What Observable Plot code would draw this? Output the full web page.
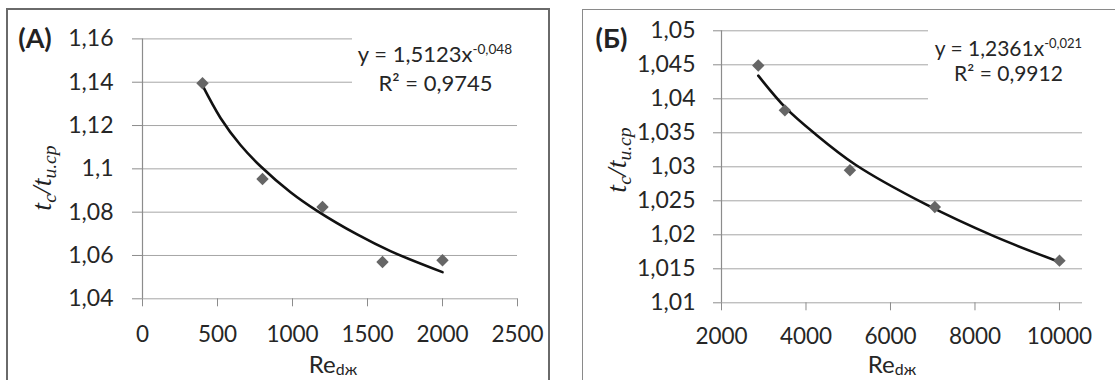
<!DOCTYPE html>
<html><head><meta charset="utf-8">
<script src="https://cdn.jsdelivr.net/npm/d3@7"></script>
<script src="https://cdn.jsdelivr.net/npm/@observablehq/plot@0.6"></script>
<style>
body{margin:0;background:#fff;}
#wrap{position:relative;width:1115px;height:380px;overflow:hidden;background:#fff;font-family:Lato,sans-serif;color:#2a2a2a;}
.abs{position:absolute;white-space:nowrap;}
.sub{font-size:0.7em;position:relative;top:0.28em;vertical-align:baseline;}
.xsub{font-size:0.66em;position:relative;top:0.12em;vertical-align:baseline;line-height:0.8;}
.sup{font-size:0.62em;position:relative;top:-0.62em;vertical-align:baseline;}
</style></head><body>
<div id="wrap"></div>
<script>
// ---- Panel A data ----
const reA = [400, 800, 1200, 1600, 2000];
const tA = [1.1395, 1.0953, 1.0824, 1.0570, 1.0578];
const trendReA = [400, 520, 653, 787, 987, 1164, 1431, 1653, 2000];
const trendTA = [1.1385, 1.1235, 1.1110, 1.1012, 1.0892, 1.0806, 1.0697, 1.0620, 1.0523];
const xTicksA = [0, 500, 1000, 1500, 2000, 2500];
const yTicksA = [1.04, 1.06, 1.08, 1.1, 1.12, 1.14, 1.16];
const eqA = ["y = 1,5123x", "-0,048", "R² = 0,9745"];

// ---- Panel B data ----
const reB = [2870, 3500, 5040, 7050, 10000];
const tB = [1.0449, 1.0383, 1.0295, 1.0241, 1.0162];
const trendReB = [2870, 3515, 4185, 5172, 6828, 8446, 10000];
const trendTB = [1.0434, 1.0387, 1.0350, 1.0303, 1.0245, 1.0198, 1.0160];
const xTicksB = [2000, 4000, 6000, 8000, 10000];
const yTicksB = [1.01, 1.015, 1.02, 1.025, 1.03, 1.035, 1.04, 1.045, 1.05];
const eqB = ["y = 1,2361x", "-0,021", "R² = 0,9912"];

const wrap = document.getElementById("wrap");
const fmt = d => String(d).replace(".", ",");
const gridColor = "#a6a6a6";
const axisColor = "#8c8c8c";
const textColor = "#262626";

function makePanel(o) {
  const pts = o.re.map((x, i) => ({x, y: o.t[i]}));
  const tr = o.trX.map((x, i) => ({x, y: o.trY[i]}));
  return Plot.plot({
    width: o.width, height: o.height,
    marginLeft: o.ml, marginRight: o.mr, marginTop: o.mt, marginBottom: o.mb,
    style: {fontFamily: "Lato, sans-serif", background: "transparent", overflow: "visible"},
    x: {domain: o.xDomain},
    y: {domain: o.yDomain},
    marks: [
      Plot.ruleY(o.yTicks, {stroke: gridColor, strokeWidth: 1}),
      Plot.ruleX([o.xDomain[0]], {stroke: axisColor, strokeWidth: 1.2}),
      Plot.axisY({ticks: o.yTicks, tickSize: o.yTickSize, tickPadding: o.yPad, tickFormat: fmt,
        fontSize: 23, stroke: axisColor, fill: textColor, label: null}),
      Plot.axisX({ticks: o.xTicks, tickSize: 8, tickPadding: o.xPad, tickFormat: d => String(d),
        fontSize: 22.5, stroke: axisColor, fill: textColor, label: null}),
      Plot.line(tr, {x: "x", y: "y", stroke: "#111", strokeWidth: 2.6, curve: "catmull-rom"}),
      Plot.dot(pts, {x: "x", y: "y", symbol: "diamond2", r: 5.6, fill: "#666", stroke: "none"})
    ]
  });
}

function box(left, top, w, h, border) {
  const d = document.createElement("div");
  d.className = "abs";
  Object.assign(d.style, {left: left + "px", top: top + "px", width: w + "px", height: h + "px",
    boxSizing: "border-box", border: border || "none", background: "#fff"});
  wrap.appendChild(d);
  return d;
}
function text(html, cx, cy, style, transform) {
  const d = document.createElement("div");
  d.className = "abs";
  d.innerHTML = html;
  Object.assign(d.style, {left: cx + "px", top: cy + "px", lineHeight: "1.2",
    transform: transform || "translate(-50%,-50%)"}, style || {});
  wrap.appendChild(d);
  return d;
}
function place(el, left, top) {
  el.style.position = "absolute";
  el.style.left = left + "px";
  el.style.top = top + "px";
  wrap.appendChild(el);
}

// Panel frames
box(6, 8, 544, 374, "2px solid #6a6a6a");
box(582, 9, 540, 374, "1.5px solid #8a8a8a");

// Panel A
const pA = makePanel({re: reA, t: tA, trX: trendReA, trY: trendTA, width: 542, height: 369,
  ml: 135, mr: 32, mt: 29.4, mb: 79.7, xDomain: [0, 2500], yDomain: [1.04, 1.16],
  xTicks: xTicksA, yTicks: yTicksA, yTickSize: 10, yPad: 19, xPad: 19});
place(pA, 7, 9);

// Panel B
const pB = makePanel({re: reB, t: tB, trX: trendReB, trY: trendTB, width: 540, height: 368,
  ml: 138, mr: 41, mt: 20.3, mb: 75.7, xDomain: [2000, 10545], yDomain: [1.01, 1.05],
  xTicks: xTicksB, yTicks: yTicksB, yTickSize: 8, yPad: 18, xPad: 17});
place(pB, 583, 10);

// Equation boxes
box(352, 20, 190, 86);
box(928, 18, 200, 96);
text(`${eqA[0]}<span class="sup">${eqA[1]}</span>`, 435, 54, {fontSize: "22px", color: textColor});
text(eqA[2], 435.5, 82.5, {fontSize: "22px", color: textColor});
text(`${eqB[0]}<span class="sup">${eqB[1]}</span>`, 1008.5, 48.3, {fontSize: "21px", color: textColor});
text(eqB[2], 1008.5, 73.3, {fontSize: "21px", color: textColor});

// Panel labels
text("(А)", 35, 38, {fontSize: "27px", fontWeight: "bold", color: "#222"});
text("(Б)", 611.5, 38, {fontSize: "27px", fontWeight: "bold", color: "#222"});

// Y titles
const yTitle = `t<span class="sub">c</span>/t<span class="sub">и.ср</span>`;
const serif = {fontFamily: "'Liberation Serif', serif", fontStyle: "italic", fontSize: "28px", color: "#222"};
text(yTitle, 42, 178, serif, "translate(-50%,-50%) rotate(-90deg)");
text(yTitle, 617, 160, serif, "translate(-50%,-50%) rotate(-90deg)");

// X titles
const xTitle = `Re<span class="xsub">dж</span>`;
text(xTitle, 333, 354, {fontSize: "24px", lineHeight: "0.8", color: textColor}, "translateX(-50%)");
text(xTitle, 892, 354, {fontSize: "24px", lineHeight: "0.8", color: textColor}, "translateX(-50%)");
</script>
</body></html>
